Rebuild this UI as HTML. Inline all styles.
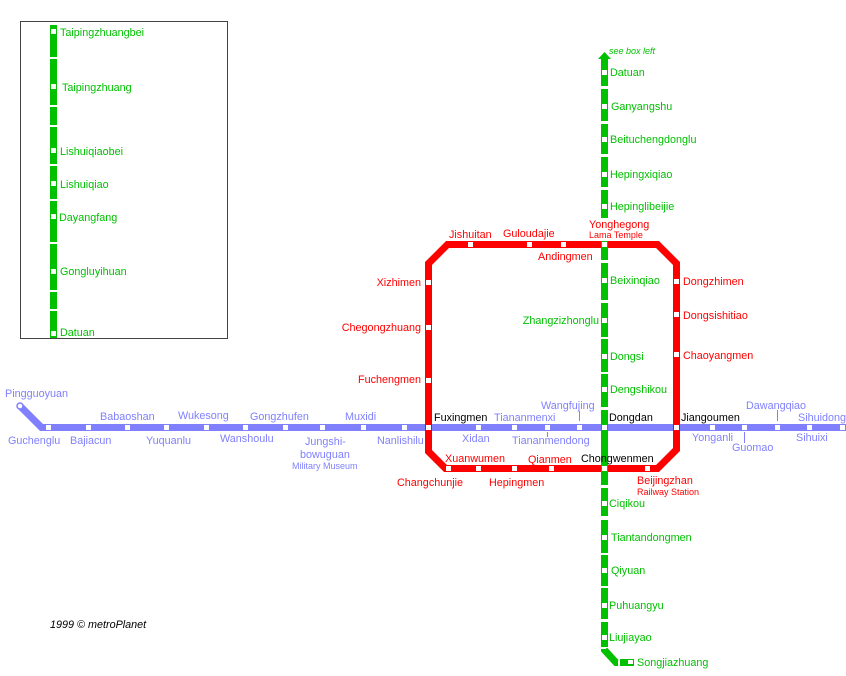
<!DOCTYPE html>
<html><head><meta charset="utf-8"><style>
html,body{margin:0;padding:0;background:#fff;}
svg{display:block;}
text{font-family:"Liberation Sans",Arial,sans-serif;font-size:10.8px;}
.g{fill:#00c000;} .r{fill:#ff0000;} .b{fill:#8080ff;} .k{fill:#000;}
.s{font-size:9px;}
</style></head><body>
<svg width="846" height="676" viewBox="0 0 846 676" xmlns="http://www.w3.org/2000/svg">
<rect width="846" height="676" fill="#fff"/>
<!-- inset box -->
<rect x="20.5" y="21.5" width="207" height="317" fill="none" stroke="#444" stroke-width="1"/>
<g fill="#00c000">
<rect x="50" y="25" width="7" height="32"/>
<rect x="50" y="59" width="7" height="46"/>
<rect x="50" y="107" width="7" height="18"/>
<rect x="50" y="127" width="7" height="37"/>
<rect x="50" y="166" width="7" height="33"/>
<rect x="50" y="201" width="7" height="41"/>
<rect x="50" y="244" width="7" height="46"/>
<rect x="50" y="292" width="7" height="17"/>
<rect x="50" y="311" width="7" height="27"/>
</g>
<g fill="#fff">
<rect x="51" y="29" width="5" height="5"/>
<rect x="51" y="84" width="5" height="5"/>
<rect x="51" y="148" width="5" height="5"/>
<rect x="51" y="181" width="5" height="5"/>
<rect x="51" y="214" width="5" height="5"/>
<rect x="51" y="269" width="5" height="5"/>
<rect x="51" y="331" width="5" height="5"/>
</g>
<text class="g" x="60" y="36">Taipingzhuangbei</text>
<text class="g" x="62" y="91">Taipingzhuang</text>
<text class="g" x="60" y="155">Lishuiqiaobei</text>
<text class="g" x="60" y="188">Lishuiqiao</text>
<text class="g" x="59" y="221">Dayangfang</text>
<text class="g" x="60" y="275">Gongluyihuan</text>
<text class="g" x="60" y="336">Datuan</text>

<!-- blue line -->
<path d="M20,406 L41.5,427.5 H846" fill="none" stroke="#8080ff" stroke-width="7"/>
<circle cx="20" cy="406" r="3" fill="#fff" stroke="#8080ff" stroke-width="1.5"/>
<g stroke="#8080ff" stroke-width="1">
<line x1="579.5" y1="411" x2="579.5" y2="421"/>
<line x1="547.5" y1="432" x2="547.5" y2="437"/>
<line x1="744.5" y1="432" x2="744.5" y2="443"/>
<line x1="777.5" y1="410" x2="777.5" y2="421"/>
</g>

<!-- red ring -->
<path d="M447.5,244.5 H657.5 L676.5,263.5 V449.5 L657.5,468.5 H445.5 L428.5,451.5 V263.5 Z" fill="none" stroke="#ff0000" stroke-width="7"/>

<!-- green main line -->
<g fill="#00c000">
<polygon points="604.5,52 598,59 611,59"/>
<rect x="601" y="59" width="7" height="27"/>
<rect x="601" y="89" width="7" height="32"/>
<rect x="601" y="124" width="7" height="30"/>
<rect x="601" y="157" width="7" height="30"/>
<rect x="601" y="190" width="7" height="28"/>
<rect x="601" y="241" width="7" height="19"/>
<rect x="601" y="263" width="7" height="37"/>
<rect x="601" y="303" width="7" height="34"/>
<rect x="601" y="339" width="7" height="33"/>
<rect x="601" y="374" width="7" height="33"/>
<rect x="601" y="410" width="7" height="75"/>
<rect x="601" y="488" width="7" height="28"/>
<rect x="601" y="520" width="7" height="33"/>
<rect x="601" y="555" width="7" height="31"/>
<rect x="601" y="588" width="7" height="31"/>
<rect x="601" y="622" width="7" height="25"/>
<rect x="620" y="659" width="14" height="7"/>
</g>
<path d="M604.5,649 V650 L616,662.5 H618" fill="none" stroke="#00c000" stroke-width="7"/>

<!-- station squares -->
<g fill="#fff">
<!-- green -->
<rect x="602" y="70" width="5" height="5"/>
<rect x="602" y="104" width="5" height="5"/>
<rect x="602" y="137" width="5" height="5"/>
<rect x="602" y="172" width="5" height="5"/>
<rect x="602" y="204" width="5" height="5"/>
<rect x="602" y="242" width="5" height="5"/>
<rect x="602" y="278" width="5" height="5"/>
<rect x="602" y="318" width="5" height="5"/>
<rect x="602" y="354" width="5" height="5"/>
<rect x="602" y="387" width="5" height="5"/>
<rect x="602" y="425" width="5" height="5"/>
<rect x="602" y="466" width="5" height="5"/>
<rect x="602" y="501" width="5" height="5"/>
<rect x="602" y="535" width="5" height="5"/>
<rect x="602" y="568" width="5" height="5"/>
<rect x="602" y="603" width="5" height="5"/>
<rect x="602" y="635" width="5" height="5"/>
<rect x="628" y="660" width="5" height="4"/>
<!-- ring -->
<rect x="468" y="242" width="5" height="5"/>
<rect x="527" y="242" width="5" height="5"/>
<rect x="561" y="242" width="5" height="5"/>
<rect x="426" y="280" width="5" height="5"/>
<rect x="426" y="325" width="5" height="5"/>
<rect x="426" y="378" width="5" height="5"/>
<rect x="426" y="425" width="5" height="5"/>
<rect x="674" y="279" width="5" height="5"/>
<rect x="674" y="312" width="5" height="5"/>
<rect x="674" y="352" width="5" height="5"/>
<rect x="674" y="425" width="5" height="5"/>
<rect x="446" y="466" width="5" height="5"/>
<rect x="476" y="466" width="5" height="5"/>
<rect x="512" y="466" width="5" height="5"/>
<rect x="549" y="466" width="5" height="5"/>
<rect x="645" y="466" width="5" height="5"/>
<!-- blue -->
<rect x="46" y="425" width="5" height="5"/>
<rect x="86" y="425" width="5" height="5"/>
<rect x="125" y="425" width="5" height="5"/>
<rect x="164" y="425" width="5" height="5"/>
<rect x="204" y="425" width="5" height="5"/>
<rect x="243" y="425" width="5" height="5"/>
<rect x="283" y="425" width="5" height="5"/>
<rect x="320" y="425" width="5" height="5"/>
<rect x="361" y="425" width="5" height="5"/>
<rect x="402" y="425" width="5" height="5"/>
<rect x="476" y="425" width="5" height="5"/>
<rect x="512" y="425" width="5" height="5"/>
<rect x="545" y="425" width="5" height="5"/>
<rect x="577" y="425" width="5" height="5"/>
<rect x="710" y="425" width="5" height="5"/>
<rect x="742" y="425" width="5" height="5"/>
<rect x="775" y="425" width="5" height="5"/>
<rect x="807" y="425" width="5" height="5"/>
<rect x="840" y="425" width="5" height="5"/>
</g>

<!-- green labels -->
<text class="g s" x="609" y="54" font-style="italic">see box left</text>
<text class="g" x="610" y="76">Datuan</text>
<text class="g" x="611" y="110">Ganyangshu</text>
<text class="g" x="610" y="143">Beituchengdonglu</text>
<text class="g" x="610" y="178">Hepingxiqiao</text>
<text class="g" x="610" y="210">Hepinglibeijie</text>
<text class="g" x="610" y="284">Beixinqiao</text>
<text class="g" x="599" y="324" text-anchor="end">Zhangzizhonglu</text>
<text class="g" x="610" y="360">Dongsi</text>
<text class="g" x="610" y="393">Dengshikou</text>
<text class="g" x="609" y="507">Ciqikou</text>
<text class="g" x="611" y="541">Tiantandongmen</text>
<text class="g" x="611" y="574">Qiyuan</text>
<text class="g" x="609" y="609">Puhuangyu</text>
<text class="g" x="609" y="641">Liujiayao</text>
<text class="g" x="637" y="666">Songjiazhuang</text>

<!-- red labels -->
<text class="r" x="589" y="228">Yonghegong</text>
<text class="r s" x="589" y="238">Lama Temple</text>
<text class="r" x="449" y="238">Jishuitan</text>
<text class="r" x="503" y="237">Guloudajie</text>
<text class="r" x="538" y="260">Andingmen</text>
<text class="r" x="421" y="286" text-anchor="end">Xizhimen</text>
<text class="r" x="421" y="331" text-anchor="end">Chegongzhuang</text>
<text class="r" x="421" y="383" text-anchor="end">Fuchengmen</text>
<text class="r" x="683" y="285">Dongzhimen</text>
<text class="r" x="683" y="319">Dongsishitiao</text>
<text class="r" x="683" y="359">Chaoyangmen</text>
<text class="r" x="445" y="462">Xuanwumen</text>
<text class="r" x="528" y="463">Qianmen</text>
<text class="r" x="489" y="486">Hepingmen</text>
<text class="r" x="397" y="486">Changchunjie</text>
<text class="r" x="637" y="484">Beijingzhan</text>
<text class="r s" x="637" y="495">Railway Station</text>

<!-- black labels -->
<text class="k" x="434" y="421">Fuxingmen</text>
<text class="k" x="609" y="421">Dongdan</text>
<text class="k" x="681" y="421">Jiangoumen</text>
<text class="k" x="581" y="462">Chongwenmen</text>

<!-- blue labels -->
<text class="b" x="5" y="397">Pingguoyuan</text>
<text class="b" x="8" y="444">Guchenglu</text>
<text class="b" x="70" y="444">Bajiacun</text>
<text class="b" x="100" y="420">Babaoshan</text>
<text class="b" x="146" y="444">Yuquanlu</text>
<text class="b" x="178" y="419">Wukesong</text>
<text class="b" x="220" y="442">Wanshoulu</text>
<text class="b" x="250" y="420">Gongzhufen</text>
<text class="b" x="305" y="445">Jungshi-</text>
<text class="b" x="300" y="458">bowuguan</text>
<text class="b s" x="292" y="469">Military Museum</text>
<text class="b" x="345" y="420">Muxidi</text>
<text class="b" x="377" y="444">Nanlishilu</text>
<text class="b" x="494" y="421">Tiananmenxi</text>
<text class="b" x="462" y="442">Xidan</text>
<text class="b" x="541" y="409">Wangfujing</text>
<text class="b" x="512" y="444">Tiananmendong</text>
<text class="b" x="692" y="441">Yonganli</text>
<text class="b" x="732" y="451">Guomao</text>
<text class="b" x="746" y="409">Dawangqiao</text>
<text class="b" x="798" y="421">Sihuidong</text>
<text class="b" x="796" y="441">Sihuixi</text>

<text class="k" x="50" y="628" font-style="italic" font-size="10.8">1999 © metroPlanet</text>
</svg>
</body></html>
